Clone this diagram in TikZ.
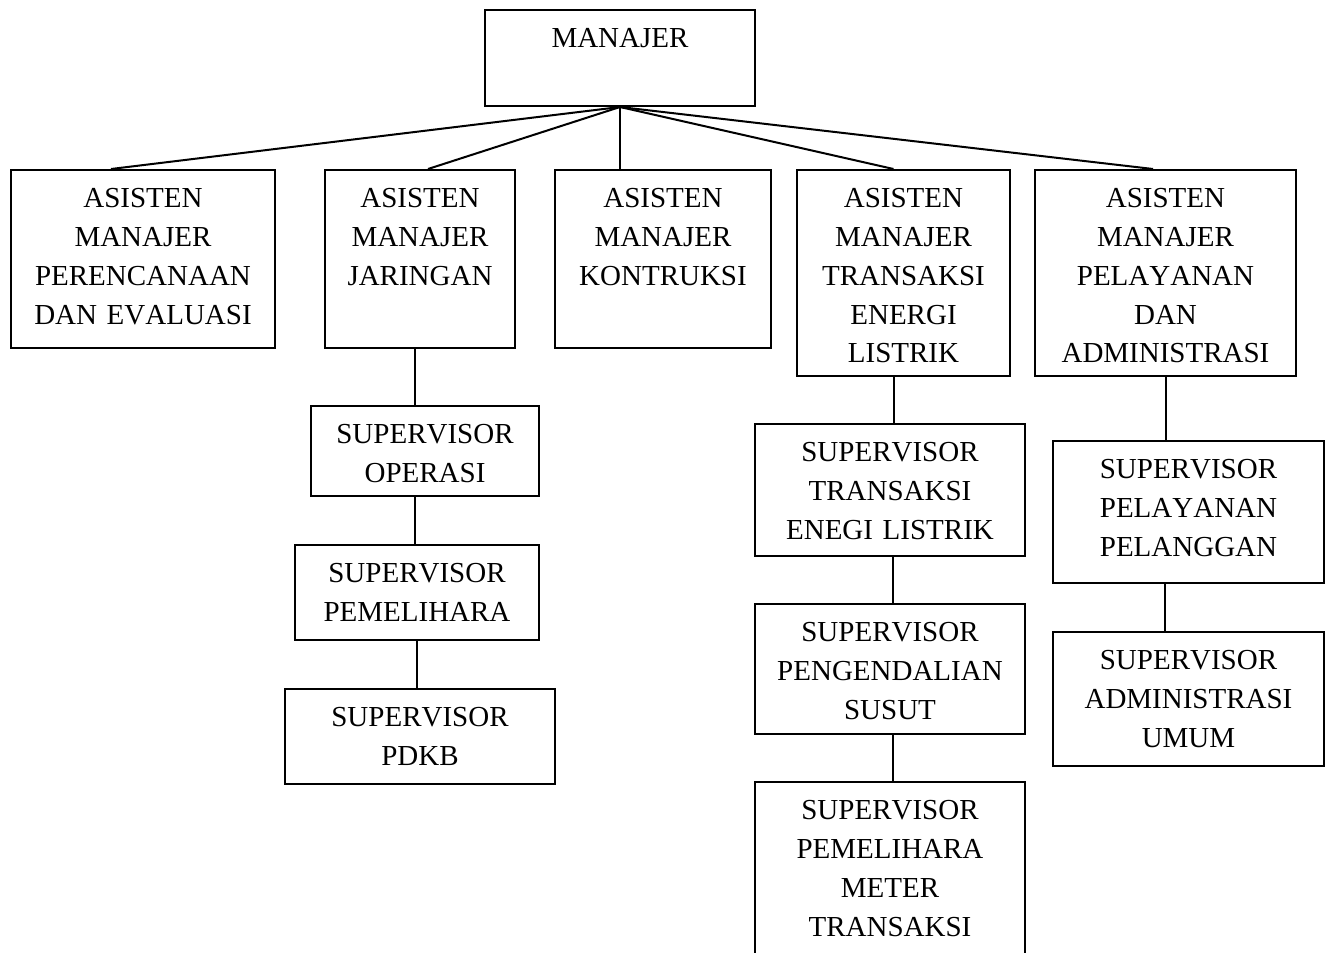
\documentclass[tikz,border=0pt]{standalone}
\usepackage{fontspec}
\setmainfont[Kerning=Off]{Liberation Serif}
\usetikzlibrary{calc}
\tikzset{
  box/.style={draw, line width=1pt, rectangle, inner sep=0pt},
  lbl/.style={anchor=base, align=center, inner sep=0pt,
    font=\fontsize{14.5pt}{19.4pt}\selectfont},
  conn/.style={line width=1pt}
}
\newcommand\orgbox[6]{%
  \node[box, minimum width={(#4-#2)*0.5pt}, minimum height={(#5-#3)*0.5pt}]
    (#1) at ({(#2+#4)/2},{(#3+#5)/2}) {};
  \node[lbl, text width={(#4-#2)*0.5pt}] (#1t) at ([yshift=-19.4pt]#1.north) {#6};%
}
\begin{document}
\begin{tikzpicture}[x=0.5pt,y=-0.5pt]
\useasboundingbox (0,0) rectangle (1330,953);
\orgbox{m}{485}{10}{755}{106}{MANAJER}
\orgbox{a1}{11}{170}{275}{348}{ASISTEN\\MANAJER\\PERENCANAAN\\DAN EVALUASI}
\orgbox{a2}{325}{170}{515}{348}{ASISTEN\\MANAJER\\JARINGAN}
\orgbox{a3}{555}{170}{771}{348}{ASISTEN\\MANAJER\\KONTRUKSI}
\orgbox{a4}{797}{170}{1010}{376}{ASISTEN\\MANAJER\\TRANSAKSI\\ENERGI\\LISTRIK}
\orgbox{a5}{1035}{170}{1296}{376}{ASISTEN\\MANAJER\\PELAYANAN\\DAN\\ADMINISTRASI}
\orgbox{sop}{311}{406}{539}{496}{SUPERVISOR\\OPERASI}
\orgbox{spem}{295}{545}{539}{640}{SUPERVISOR\\PEMELIHARA}
\orgbox{spdkb}{285}{689}{555}{784}{SUPERVISOR\\PDKB}
\orgbox{str}{755}{424}{1025}{556}{SUPERVISOR\\TRANSAKSI\\ENEGI LISTRIK}
\orgbox{speng}{755}{604}{1025}{734}{SUPERVISOR\\PENGENDALIAN\\SUSUT}
\orgbox{smet}{755}{782}{1025}{985}{SUPERVISOR\\PEMELIHARA\\METER\\TRANSAKSI}
\orgbox{spel}{1053}{441}{1324}{583}{SUPERVISOR\\PELAYANAN\\PELANGGAN}
\orgbox{sadm}{1053}{632}{1324}{766}{SUPERVISOR\\ADMINISTRASI\\UMUM}
% top-level connectors
\draw[conn] (m.south) -- ([xshift=-16pt]a1.north);
\draw[conn] (m.south) -- ([xshift=4pt]a2.north);
\draw[conn] (m.south) -- (m.south |- a3.north);
\draw[conn] (m.south) -- ([xshift=-5pt]a4.north);
\draw[conn] (m.south) -- ([xshift=-6.25pt]a5.north);
% Jaringan chain
\draw[conn] ([xshift=-2.5pt]a2.south) -- ([xshift=-2.5pt]a2.south |- sop.north);
\draw[conn] ([xshift=-5pt]sop.south) -- ([xshift=-5pt]sop.south |- spem.north);
\draw[conn] ([xshift=-0.25pt]spem.south) -- ([xshift=-0.25pt]spem.south |- spdkb.north);
% Transaksi chain
\draw[conn] ([xshift=-4.75pt]a4.south) -- ([xshift=-4.75pt]a4.south |- str.north);
\draw[conn] ([xshift=1.5pt]str.south) -- ([xshift=1.5pt]str.south |- speng.north);
\draw[conn] ([xshift=1.5pt]speng.south) -- ([xshift=1.5pt]speng.south |- smet.north);
% Pelayanan chain
\draw[conn] (a5.south) -- (a5.south |- spel.north);
\draw[conn] ([xshift=-11.75pt]spel.south) -- ([xshift=-11.75pt]spel.south |- sadm.north);
\end{tikzpicture}
\end{document}
